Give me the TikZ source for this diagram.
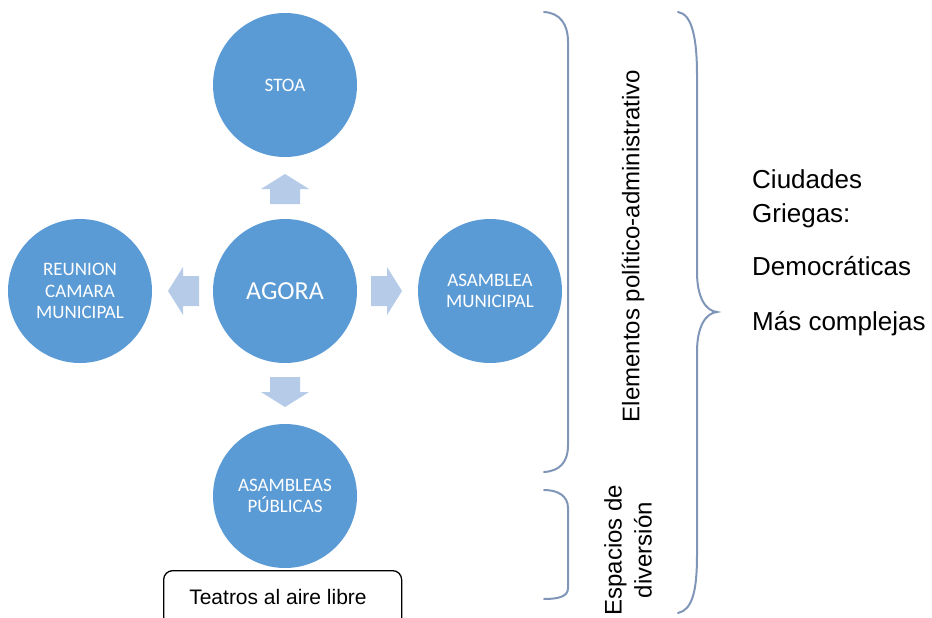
\documentclass[tikz,border=0pt]{standalone}
\usepackage{fontspec}
\setmainfont{Liberation Sans}
\newfontfamily\calfont{Carlito}
\definecolor{circfill}{HTML}{5B9BD5}
\definecolor{arrfill}{HTML}{B6CBE7}
\definecolor{bracecol}{HTML}{7F96B8}
\begin{document}
\begin{tikzpicture}[x=1pt,y=-1pt,
  circ/.style={circle, fill=circfill, minimum size=144pt, inner sep=0pt, text=white, align=center, font=\calfont\fontsize{19}{21.5}\selectfont},
  blockarrow/.style={fill=arrfill, draw=none},
  bracepath/.style={draw=bracecol, line width=2pt, line cap=round},
  sidetext/.style={font=\fontsize{26}{30}\selectfont, anchor=base west, inner sep=0pt}]
\useasboundingbox (0,0) rectangle (932,618);
\clip (0,0) rectangle (932,618);
% circles
\node[circ] (stoa) at (285,85) {STOA};
\node[circ, font=\calfont\fontsize{26}{30}\selectfont] (agora) at (285,291) {AGORA};
\node[circ] (reunion) at (80,291) {REUNION\\CAMARA\\MUNICIPAL};
\node[circ] (asamblea) at (490,291) {ASAMBLEA\\MUNICIPAL};
\node[circ] (publicas) at (285,496) {ASAMBLEAS\\PÚBLICAS};
% block arrows
\fill[blockarrow] (270,204) -- (270,189) -- (261,189) -- (285,174) -- (309,189) -- (300,189) -- (300,204) -- cycle;
\fill[blockarrow] (270,377) -- (270,392) -- (261,392) -- (285,407) -- (309,392) -- (300,392) -- (300,377) -- cycle;
\fill[blockarrow] (199,276) -- (183,276) -- (183,267) -- (168,291) -- (183,315) -- (183,306) -- (199,306) -- cycle;
\fill[blockarrow] (371,276) -- (387,276) -- (387,267) -- (402,291) -- (387,315) -- (387,306) -- (371,306) -- cycle;
% bottom box
\node[draw=black, line width=1.3pt, rounded corners=9pt, anchor=north west, minimum width=238pt, minimum height=56pt, inner sep=0pt, font=\fontsize{21}{24}\selectfont] (teatros) at (163,570) {};
\node[font=\fontsize{21}{24}\selectfont, inner sep=0pt] (teatrostext) at (278,597) {Teatros al aire libre};
% braces
\draw[bracepath] (544,12) .. controls (560,13) and (568,24) .. (568,42) -- (568,445) .. controls (568,462) and (560,471) .. (544,472);
\draw[bracepath] (544,490) .. controls (558,490) and (568,496) .. (568,508) -- (568,588) .. controls (568,596) and (560,599) .. (544,599);
\draw[bracepath] (678,12) .. controls (692,14) and (697,38) .. (697,75) -- (697,272) .. controls (697,298) and (706,311) .. (717,312) .. controls (706,313) and (697,326) .. (697,352) -- (697,555) .. controls (697,592) and (692,610) .. (678,613);
% rotated texts
\node[rotate=90, font=\fontsize{24}{30}\selectfont, inner sep=0pt] (elementos) at (633,246) {Elementos político-administrativo};
\node[rotate=90, font=\fontsize{24}{30}\selectfont, inner sep=0pt, align=center] (espacios) at (628,550) {Espacios de\\diversión};
% right texts
\node[sidetext] (ciudades) at (752,188) {Ciudades};
\node[sidetext] (griegas) at (752,222) {Griegas:};
\node[sidetext] (democ) at (752,275) {Democráticas};
\node[sidetext] (mas) at (752,330) {Más complejas};
\end{tikzpicture}
\end{document}
